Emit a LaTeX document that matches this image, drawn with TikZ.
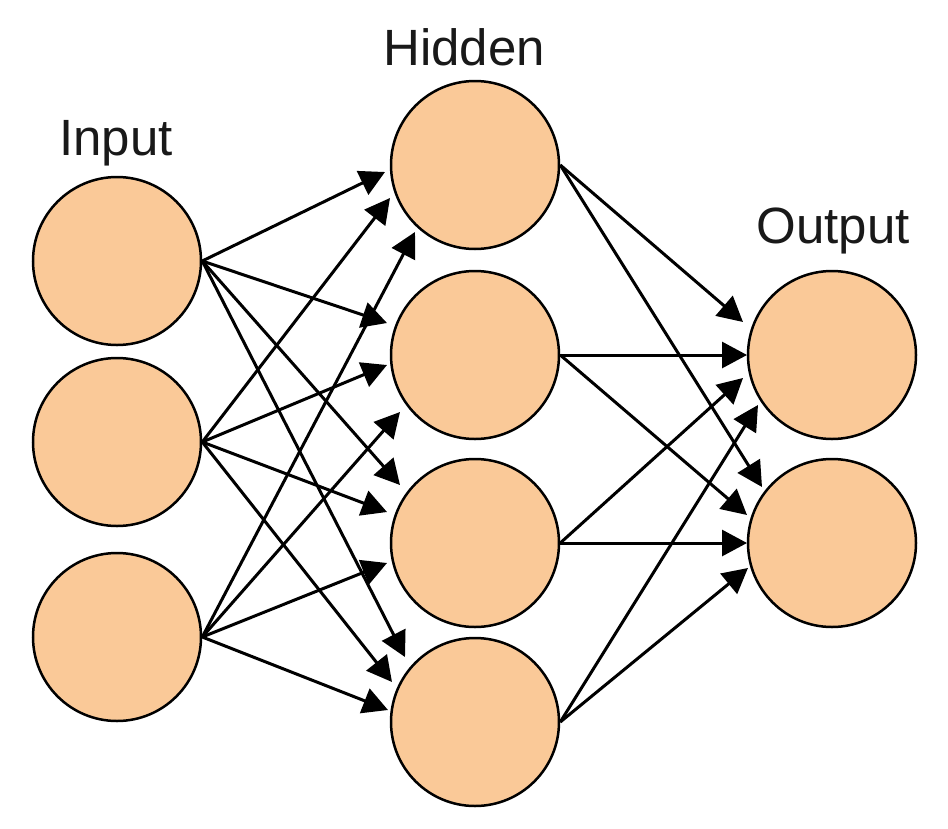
\documentclass[tikz,border=0pt]{standalone}
\usepackage{fontspec}
\setmainfont{Liberation Sans}
\usetikzlibrary{arrows.meta,calc}
\definecolor{peach}{RGB}{250,201,152}
\begin{document}
\begin{tikzpicture}[x=1pt,y=-1pt,
 neuron/.style={circle,draw=black,line width=2.5pt,fill=peach,minimum size=168pt,inner sep=0pt},
 conn/.style={line width=3pt,-{Triangle[length=25pt,width=26pt]}},
 lbl/.style={anchor=base,font=\fontsize{51}{60}\selectfont,inner sep=0pt,text=black!90}]
\useasboundingbox (0,0) rectangle (948,828);
\fill[white] (0,0) rectangle (948,828);
% labels
\node[lbl] (tin) at (116,155) {Input};
\node[lbl] (thid) at (464,65) {Hidden};
\node[lbl] (tout) at (833,243) {Output};
% neurons
\node[neuron] (i1) at (117,261) {};
\node[neuron] (i2) at (117,442) {};
\node[neuron] (i3) at (117,637) {};
\node[neuron] (h1) at (475,165) {};
\node[neuron] (h2) at (475,355) {};
\node[neuron] (h3) at (475,543) {};
\node[neuron] (h4) at (475,722) {};
\node[neuron] (o1) at (832,355) {};
\node[neuron] (o2) at (832,543) {};
% input -> hidden
\draw[conn] (i1.east) -- ($(h1)+(-90,7)$);
\draw[conn] (i1.east) -- ($(h2)+(-88,-32)$);
\draw[conn] (i1.east) -- ($(h3)+(-75,-58)$);
\draw[conn] (i1.east) -- ($(h4)+(-70,-65)$);
\draw[conn] (i2.east) -- ($(h1)+(-85,33)$);
\draw[conn] (i2.east) -- ($(h2)+(-88,10)$);
\draw[conn] (i2.east) -- ($(h3)+(-88,-31)$);
\draw[conn] (i2.east) -- ($(h4)+(-83,-40)$);
\draw[conn] (i3.east) -- ($(h1)+(-60,67)$);
\draw[conn] (i3.east) -- ($(h2)+(-75,57)$);
\draw[conn] (i3.east) -- ($(h3)+(-88,20)$);
\draw[conn] (i3.east) -- ($(h4)+(-87,-12)$);
% hidden -> output
\draw[conn] (h1.east) -- ($(o1)+(-89,-33)$);
\draw[conn] (h1.east) -- ($(o2)+(-70,-56)$);
\draw[conn] (h2.east) -- ($(o1)+(-85,0)$);
\draw[conn] (h2.east) -- ($(o2)+(-85,-28)$);
\draw[conn] (h3.east) -- ($(o1)+(-89,23)$);
\draw[conn] (h3.east) -- ($(o2)+(-85,0)$);
\draw[conn] (h4.east) -- ($(o1)+(-74,50)$);
\draw[conn] (h4.east) -- ($(o2)+(-84,25)$);
\end{tikzpicture}
\end{document}
